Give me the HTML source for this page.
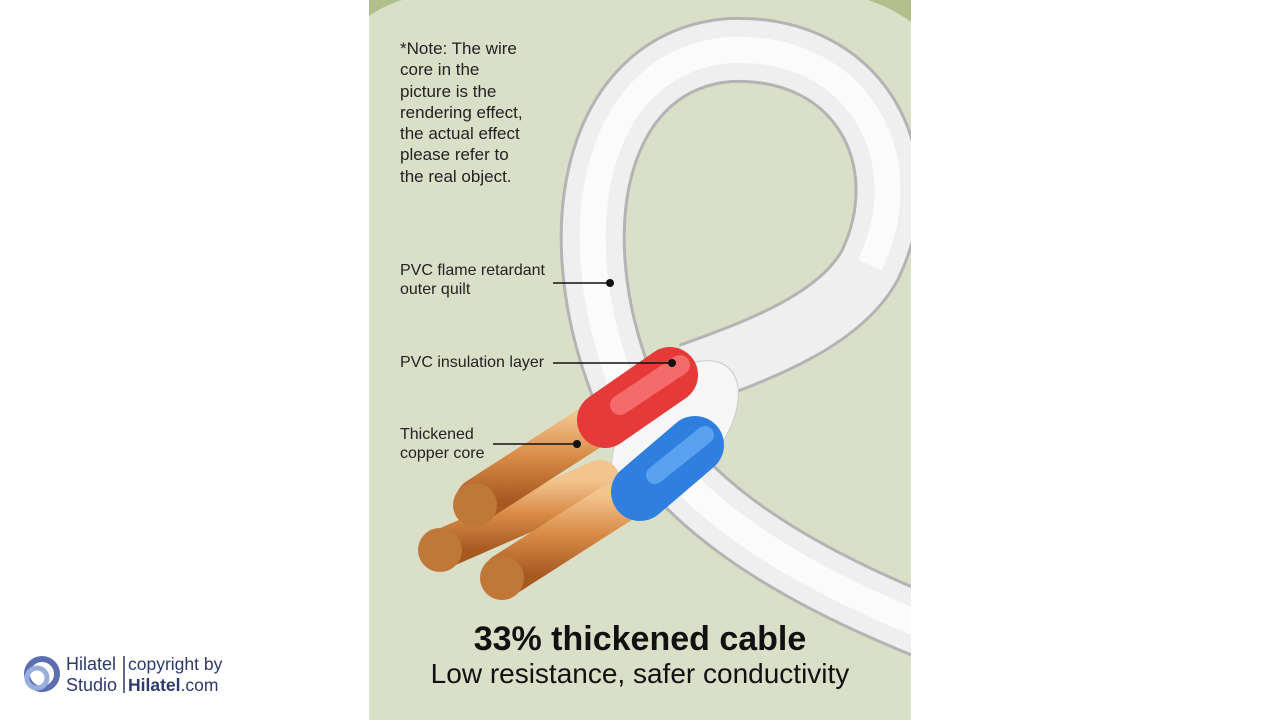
<!DOCTYPE html>
<html><head><meta charset="utf-8"><style>
html,body{margin:0;width:1280px;height:720px;overflow:hidden}
body{background:#fff;position:relative;font-family:"Liberation Sans",sans-serif}
.t{position:absolute;color:#222;font-size:17px;line-height:21.3px}
</style></head><body>
<svg width="1280" height="720" style="position:absolute;left:0;top:0">
<defs>
<clipPath id="c"><rect x="369" y="0" width="542" height="720"/></clipPath>
<linearGradient id="cu" x1="0" y1="0" x2="0" y2="1"><stop offset="0" stop-color="#f3c48e"/><stop offset=".5" stop-color="#d88a45"/><stop offset="1" stop-color="#a65a22"/></linearGradient>
</defs>
<g clip-path="url(#c)">
<rect x="369" y="0" width="542" height="720" fill="#dadfc8"/>
<path d="M369 0 L402 0 Q383 6 369 16 Z" fill="#afc08d"/>
<path d="M868 0 L911 0 L911 22 Q892 8 868 0 Z" fill="#afc08d"/>
<path d="M960 640 C800 580,660 500,620 380 C560 220,600 60,730 50 C860 45,920 160,870 265 C840 320,760 350,690 375" fill="none" stroke="#b4b4b4" stroke-width="66"/>
<path d="M960 640 C800 580,660 500,620 380 C560 220,600 60,730 50 C860 45,920 160,870 265 C840 320,760 350,690 375" fill="none" stroke="#efefef" stroke-width="60"/>
<path d="M960 640 C800 580,660 500,620 380 C560 220,600 60,730 50 C860 45,920 160,870 265" fill="none" stroke="#fbfbfb" stroke-width="26"/>
<ellipse cx="675" cy="430" rx="46" ry="82" transform="rotate(40 675 430)" fill="#f6f6f6" stroke="#ccc"/>
<line x1="600" y1="480" x2="440" y2="550" stroke="url(#cu)" stroke-width="40" stroke-linecap="round"/>
<line x1="610" y1="415" x2="478" y2="500" stroke="url(#cu)" stroke-width="44" stroke-linecap="round"/>
<line x1="670" y1="375" x2="605" y2="420" stroke="#e6393a" stroke-width="56" stroke-linecap="round"/>
<line x1="680" y1="365" x2="620" y2="405" stroke="#f56a6a" stroke-width="20" stroke-linecap="round"/>
<line x1="630" y1="495" x2="505" y2="575" stroke="url(#cu)" stroke-width="44" stroke-linecap="round"/>
<line x1="695" y1="445" x2="640" y2="492" stroke="#2f7fe0" stroke-width="58" stroke-linecap="round"/>
<line x1="705" y1="435" x2="655" y2="475" stroke="#5aa1f0" stroke-width="18" stroke-linecap="round"/>
<circle cx="475" cy="505" r="22" fill="#c07838"/><circle cx="440" cy="550" r="22" fill="#c07838"/><circle cx="502" cy="578" r="22" fill="#c07838"/>
<line x1="553" y1="283" x2="610" y2="283" stroke="#111" stroke-width="1.5"/><circle cx="610" cy="283" r="4" fill="#111"/>
<line x1="553" y1="363" x2="672" y2="363" stroke="#111" stroke-width="1.5"/><circle cx="672" cy="363" r="4" fill="#111"/>
<line x1="493" y1="444" x2="577" y2="444" stroke="#111" stroke-width="1.5"/><circle cx="577" cy="444" r="4" fill="#111"/>
</g>
<circle cx="42" cy="674" r="15" fill="none" stroke="#5b6fb0" stroke-width="6"/>
<circle cx="37" cy="678" r="10" fill="none" stroke="#9aaede" stroke-width="5"/>
<line x1="124" y1="656" x2="124" y2="693" stroke="#2b3a6b" stroke-width="1.5"/>
</svg>
<div class="t" style="left:400px;top:38px">*Note: The wire<br>core in the<br>picture is the<br>rendering effect,<br>the actual effect<br>please refer to<br>the real object.</div>
<div class="t" style="left:400px;top:261px;font-size:16px;line-height:19px">PVC flame retardant<br>outer quilt</div>
<div class="t" style="left:400px;top:352px;font-size:16px">PVC insulation layer</div>
<div class="t" style="left:400px;top:425px;font-size:16px;line-height:19px">Thickened<br>copper core</div>
<div class="t" style="left:369px;width:542px;text-align:center;top:618px;font-size:34px;font-weight:bold;line-height:42px;color:#111">33% thickened cable</div>
<div class="t" style="left:369px;width:542px;text-align:center;top:657px;font-size:28px;line-height:34px;color:#111">Low resistance, safer conductivity</div>
<div class="t" style="left:66px;top:654px;font-size:18px;line-height:21px;color:#2b3a6b">Hilatel<br>Studio</div>
<div class="t" style="left:128px;top:654px;font-size:17.5px;line-height:21px;color:#2b3a6b">copyright by<br><b>Hilatel</b>.com</div>
</body></html>
